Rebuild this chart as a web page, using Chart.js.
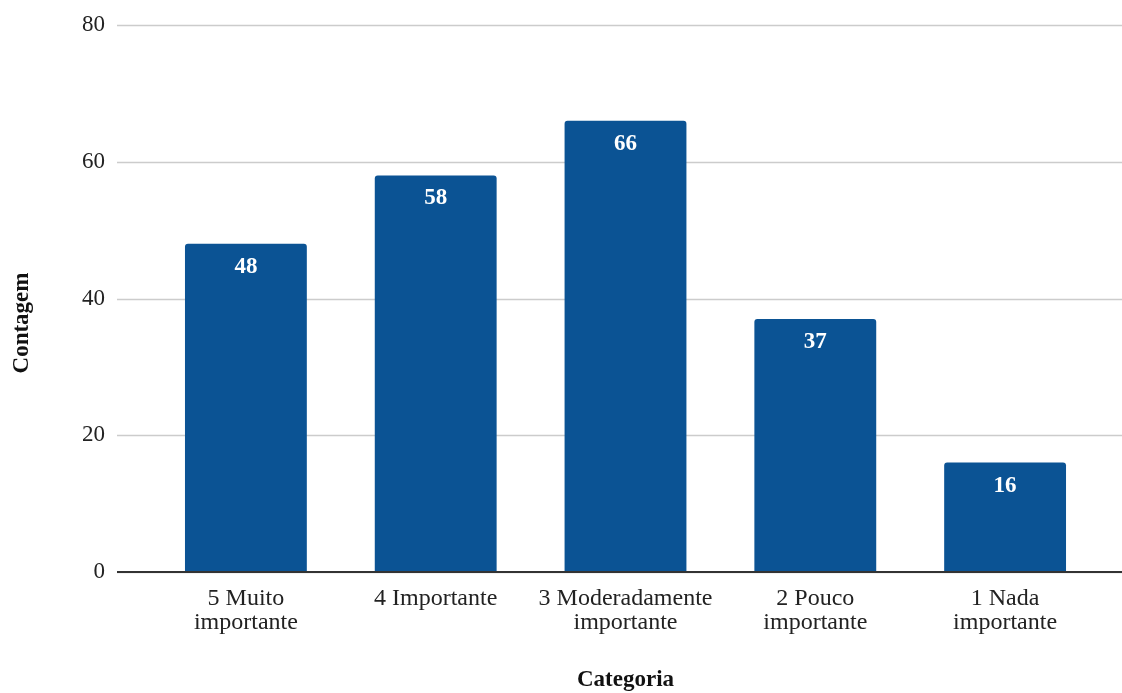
<!DOCTYPE html>
<html>
<head>
<meta charset="utf-8">
<script src="https://cdn.jsdelivr.net/npm/chart.js@4"></script>
<style>
  html, body { margin: 0; padding: 0; background: #fff; }
  #wrap { width: 1122px; height: 693px; position: relative; }
</style>
</head>
<body>
<div id="wrap"><canvas id="chart"></canvas></div>
<script>
let categories = [
    ['5 Muito', 'importante'],
    '4 Importante',
    ['3 Moderadamente', 'importante'],
    ['2 Pouco', 'importante'],
    ['1 Nada', 'importante']
];
let counts = [48, 58, 66, 37, 16];
let yTicks = [0, 20, 40, 60, 80];

let barColor = '#0b5394';
let fontFamily = '"Liberation Serif", "DejaVu Serif", serif';
let yTitle = 'Contagem';

// horizontal grid lines run wider than the plot area in the original
let gridPlugin = {
    id: 'wideGrid',
    beforeDatasetsDraw(chart) {
        let ctx = chart.ctx;
        let y = chart.scales.y;
        let x0 = chart.chartArea.left - 34;
        let x1 = chart.width;
        ctx.save();
        y.ticks.forEach(t => {
            let py = Math.round(y.getPixelForValue(t.value)) + 0.5;
            ctx.beginPath();
            ctx.moveTo(x0, py);
            ctx.lineTo(x1, py);
            ctx.lineWidth = 1.5;
            ctx.strokeStyle = '#cccccc';
            ctx.stroke();
        });
        ctx.restore();
    },
    afterDatasetsDraw(chart) {
        let ctx = chart.ctx;
        let y = chart.scales.y;
        let py = y.getPixelForValue(0);
        ctx.save();
        ctx.beginPath();
        ctx.moveTo(chart.chartArea.left - 34, py);
        ctx.lineTo(chart.width, py);
        ctx.lineWidth = 2;
        ctx.strokeStyle = '#333333';
        ctx.stroke();

        // value labels inside the bar tops
        ctx.fillStyle = '#ffffff';
        ctx.font = 'bold 23px ' + fontFamily;
        ctx.textAlign = 'center';
        ctx.textBaseline = 'middle';
        chart.getDatasetMeta(0).data.forEach((bar, i) => {
            ctx.fillText(counts[i], bar.x, bar.y + 23);
        });

        // y axis title sits a bit below the axis centre in the original
        ctx.fillStyle = '#111111';
        ctx.translate(22, 323);
        ctx.rotate(-Math.PI / 2);
        ctx.fillText(yTitle, 0, 0);
        ctx.restore();
    }
};

let ctx = document.getElementById('chart').getContext('2d');
let chart = new Chart(ctx, {
    type: 'bar',
    data: {
        labels: categories,
        datasets: [{
            label: 'Contagem',
            data: counts,
            backgroundColor: barColor,
            borderRadius: { topLeft: 3, topRight: 3 },
            borderSkipped: 'bottom',
            barPercentage: 0.642,
            categoryPercentage: 1
        }]
    },
    options: {
        responsive: true,
        maintainAspectRatio: false,
        animation: false,
        layout: { padding: { top: 25, right: 22, left: 0, bottom: 0 } },
        plugins: {
            legend: { display: false },
            tooltip: { enabled: false }
        },
        scales: {
            x: {
                grid: { display: false, drawTicks: false },
                border: { display: false },
                ticks: {
                    color: '#222222',
                    padding: 15,
                    maxRotation: 0,
                    autoSkip: false,
                    font: { family: fontFamily, size: 24, lineHeight: 1.0 }
                },
                title: {
                    display: true,
                    text: 'Categoria',
                    color: '#111111',
                    padding: { top: 0, bottom: 0 },
                    font: { family: fontFamily, size: 23, weight: 'bold', lineHeight: 1.1 }
                },
                afterFit: s => { s.height = 121; }
            },
            y: {
                min: 0,
                max: 80,
                afterBuildTicks: s => { s.ticks = yTicks.map(v => ({ value: v })); },
                grid: { display: false, drawTicks: true, tickLength: 36 },
                border: { display: false },
                ticks: {
                    color: '#222222',
                    padding: 10,
                    font: { family: fontFamily, size: 23 }
                },
                title: { display: false },
                afterFit: s => { s.width = 151; }
            }
        }
    },
    plugins: [gridPlugin]
});
</script>
</body>
</html>
